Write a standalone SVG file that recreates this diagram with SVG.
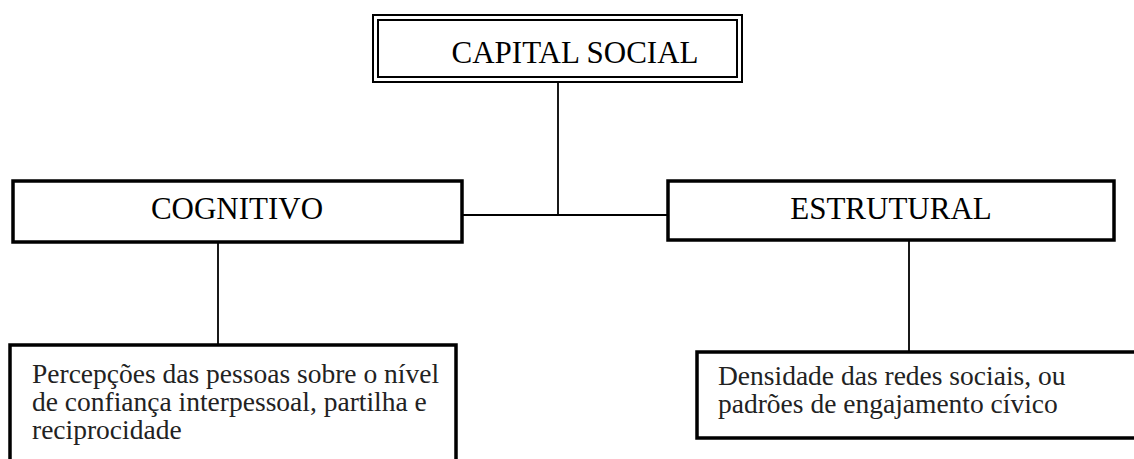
<svg xmlns="http://www.w3.org/2000/svg" width="1134" height="459" viewBox="0 0 1134 459">
<style>
.box{fill:#fff;stroke:#000;stroke-width:3.5}
.dbl{fill:none;stroke:#000;stroke-width:2}
.conn{fill:none;stroke:#000;stroke-width:1.8}
.hdr{font-family:"Liberation Serif","Times New Roman",serif;font-size:31px;fill:#000;text-anchor:middle}
.body{font-family:"Liberation Serif","Times New Roman",serif;font-size:27.5px;fill:#222}
</style>
<rect width="1134" height="459" fill="#fff"/>
<g id="connectors">
<line class="conn" x1="558" y1="83" x2="558" y2="215"/>
<line class="conn" x1="463" y1="215" x2="668" y2="215"/>
<line class="conn" x1="218" y1="243" x2="218" y2="345"/>
<line class="conn" x1="909" y1="241" x2="909" y2="352"/>
</g>
<g id="capital-social">
<rect x="373" y="15" width="369" height="67" fill="#fff" class="dbl"/>
<rect x="378" y="20" width="359" height="57" class="dbl"/>
<text class="hdr" x="575" y="63">CAPITAL SOCIAL</text>
</g>
<g id="cognitivo">
<rect class="box" x="13" y="181" width="449" height="61"/>
<text class="hdr" x="237" y="219">COGNITIVO</text>
</g>
<g id="estrutural">
<rect class="box" x="668" y="181" width="446" height="59"/>
<text class="hdr" x="891" y="219">ESTRUTURAL</text>
</g>
<g id="cognitivo-desc">
<path class="box" d="M10 470 V345 H456 V470"/>
<text class="body"><tspan x="32" y="383">Percepções das pessoas sobre o nível</tspan><tspan x="32" y="411">de confiança interpessoal, partilha e</tspan><tspan x="32" y="439">reciprocidade</tspan></text>
</g>
<g id="estrutural-desc">
<path class="box" d="M1145 352 H697 V438 H1145"/>
<text class="body"><tspan x="718" y="385">Densidade das redes sociais, ou</tspan><tspan x="718" y="413">padrões de engajamento cívico</tspan></text>
</g>
</svg>
